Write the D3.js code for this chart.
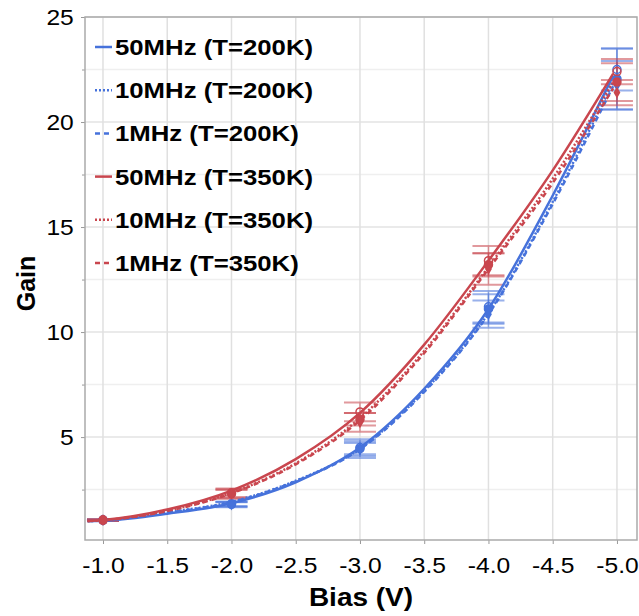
<!DOCTYPE html>
<html>
<head>
<meta charset="utf-8">
<script src="https://cdn.jsdelivr.net/npm/d3@7"></script>
<style>
  body { margin: 0; background: #fff; }
  text { font-family: "Liberation Sans", Arial, Helvetica, sans-serif; }
</style>
</head>
<body>
<script>
// bias points where the gain was measured
var biasPoints = [-1, -2, -3, -4, -5];

// measured gain and error per series
var blue50 = [1.05, 1.82, 4.5, 11.2, 22.5],   blue50Err = [0.03, 0.1, 0.4, 0.75, 1.0];
var blue10 = [1.05, 1.8, 4.45, 11.1, 22.05],  blue10Err = [0.03, 0.12, 0.27, 0.7, 1.45];
var blue1  = [1.05, 1.78, 4.4, 10.85, 21.75], blue1Err  = [0.03, 0.12, 0.4, 0.65, 1.15];
var red50  = [1.05, 2.35, 6.2, 13.4, 22.4],   red50Err  = [0.03, 0.2, 0.45, 0.7, 0.6];
var red10  = [1.05, 2.3, 5.85, 13.2, 21.9],   red10Err  = [0.03, 0.22, 0.3, 0.55, 0.9];
var red1   = [1.05, 2.28, 5.7, 13.0, 21.4],   red1Err   = [0.03, 0.2, 0.45, 0.75, 0.6];

// fitted curves
var curveBias = [-0.88, -1, -1.5, -2, -2.5, -3, -3.5, -4, -4.5, -4.97];
var blue50Fit = [1.0, 1.02, 1.35, 1.85, 2.85, 4.5, 7.3, 11.1, 16.5, 22.2];
var blue10Fit = [1.0, 1.03, 1.42, 1.92, 2.92, 4.45, 7.2, 10.9, 16.2, 21.9];
var blue1Fit  = [1.0, 1.03, 1.4, 1.9, 2.9, 4.42, 7.15, 10.85, 16.1, 21.7];
var red50Fit  = [1.0, 1.05, 1.55, 2.45, 3.95, 6.15, 9.4, 13.4, 17.7, 22.3];
var red10Fit  = [1.0, 1.04, 1.5, 2.35, 3.75, 5.9, 9.1, 13.1, 17.3, 21.9];
var red1Fit   = [1.0, 1.04, 1.48, 2.32, 3.7, 5.8, 9.0, 13.0, 17.1, 21.6];

var seriesNames = ["50MHz (T=200K)", "10MHz (T=200K)", "1MHz (T=200K)",
                   "50MHz (T=350K)", "10MHz (T=350K)", "1MHz (T=350K)"];

var xTicks = [-1.0, -1.5, -2.0, -2.5, -3.0, -3.5, -4.0, -4.5, -5.0];
var yTicks = [5, 10, 15, 20, 25];
var yMinor = [2.5, 7.5, 12.5, 17.5, 22.5];

var blue = "#4672db", red = "#c9464e";
var series = [
  {name: seriesNames[0], color: blue, dash: null,  marker: "open",    vals: blue50, err: blue50Err, fit: blue50Fit},
  {name: seriesNames[1], color: blue, dash: "2,2", marker: "circle",  vals: blue10, err: blue10Err, fit: blue10Fit},
  {name: seriesNames[2], color: blue, dash: "5,4", marker: "diamond", vals: blue1,  err: blue1Err,  fit: blue1Fit},
  {name: seriesNames[3], color: red,  dash: null,  marker: "open",    vals: red50,  err: red50Err,  fit: red50Fit},
  {name: seriesNames[4], color: red,  dash: "2,2", marker: "circle",  vals: red10,  err: red10Err,  fit: red10Fit},
  {name: seriesNames[5], color: red,  dash: "5,4", marker: "diamond", vals: red1,   err: red1Err,   fit: red1Fit}
];

var width = 639, height = 616;
var plotLeft = 85, plotRight = 637, plotTop = 17, plotBottom = 540;

var svg = d3.select("body").append("svg")
    .attr("width", width)
    .attr("height", height);

var x = d3.scaleLinear().domain([-0.86, -5.156]).range([plotLeft, plotRight]);
var y = d3.scaleLinear().domain([0.1, 25]).range([plotBottom, plotTop]);

// grid
svg.append("g").selectAll("line").data(yMinor).enter().append("line")
    .attr("x1", plotLeft).attr("x2", plotRight)
    .attr("y1", function(d) { return y(d); }).attr("y2", function(d) { return y(d); })
    .attr("stroke", "#efefef").attr("stroke-width", 1.5);
svg.append("g").selectAll("line").data(yTicks).enter().append("line")
    .attr("x1", plotLeft).attr("x2", plotRight)
    .attr("y1", function(d) { return y(d); }).attr("y2", function(d) { return y(d); })
    .attr("stroke", "#e3e3e3").attr("stroke-width", 1.5);
svg.append("g").selectAll("line").data(xTicks).enter().append("line")
    .attr("y1", plotTop).attr("y2", plotBottom)
    .attr("x1", function(d) { return x(d); }).attr("x2", function(d) { return x(d); })
    .attr("stroke", "#e0e0e0").attr("stroke-width", 1.5);

// axes
var xAxis = svg.append("g")
    .attr("transform", "translate(0," + plotBottom + ")")
    .call(d3.axisBottom(x).tickValues(xTicks).tickSize(4).tickPadding(13)
        .tickFormat(function(d) { return d.toFixed(1); }));
var yAxis = svg.append("g")
    .attr("transform", "translate(" + plotLeft + ",0)")
    .call(d3.axisLeft(y).tickValues(yTicks).tickSize(4).tickPadding(6));
var yAxisMinor = svg.append("g")
    .attr("transform", "translate(" + plotLeft + ",0)")
    .call(d3.axisLeft(y).tickValues(yMinor).tickSize(3).tickFormat(""));

[xAxis, yAxis, yAxisMinor].forEach(function(a) {
  a.select(".domain").remove();
  a.selectAll("line").attr("stroke", "#999");
  a.attr("font-size", 22).attr("font-family", "'Liberation Sans', Arial, sans-serif");
  a.selectAll("text").attr("fill", "#000");
});
xAxis.selectAll("text").attr("transform", "scale(1.12,1)");
yAxis.selectAll("text").attr("transform", "scale(1.12,1)");

// frame
svg.append("rect")
    .attr("x", plotLeft).attr("y", plotTop)
    .attr("width", plotRight - plotLeft).attr("height", plotBottom - plotTop)
    .attr("fill", "none").attr("stroke", "#aaa").attr("stroke-width", 1.5);

var plot = svg.append("g");

// error bars
series.forEach(function(s) {
  var g = plot.append("g").attr("stroke", s.color).attr("opacity", 0.55);
  biasPoints.forEach(function(b, i) {
    var cx = x(b), hi = y(s.vals[i] + s.err[i]), lo = y(s.vals[i] - s.err[i]);
    g.append("line").attr("x1", cx).attr("x2", cx).attr("y1", hi).attr("y2", lo)
        .attr("stroke-width", 1.5);
    [hi, lo].forEach(function(cy) {
      g.append("line").attr("x1", cx - 16).attr("x2", cx + 16)
          .attr("y1", cy).attr("y2", cy).attr("stroke-width", 2);
    });
  });
});

// fitted curves
var line = d3.line()
    .x(function(d) { return x(d[0]); })
    .y(function(d) { return y(d[1]); })
    .curve(d3.curveMonotoneX);

series.forEach(function(s) {
  plot.append("path")
      .datum(curveBias.map(function(b, i) { return [b, s.fit[i]]; }))
      .attr("d", line)
      .attr("fill", "none")
      .attr("stroke", s.color)
      .attr("stroke-width", 2.5)
      .attr("stroke-dasharray", s.dash);
});

// markers
series.forEach(function(s) {
  biasPoints.forEach(function(b, i) {
    var cx = x(b), cy = y(s.vals[i]);
    if (s.marker === "diamond") {
      plot.append("path")
          .attr("d", d3.symbol().type(d3.symbolDiamond).size(40)())
          .attr("transform", "translate(" + cx + "," + cy + ")")
          .attr("fill", s.color);
    } else {
      plot.append("circle")
          .attr("cx", cx).attr("cy", cy).attr("r", 4)
          .attr("fill", s.marker === "open" ? "none" : s.color)
          .attr("stroke", s.color).attr("stroke-width", 1.5);
    }
  });
});

// legend
var legend = svg.append("g");
series.forEach(function(s, i) {
  var ly = 47 + i * 43.2;
  legend.append("line")
      .attr("x1", 95).attr("x2", 112).attr("y1", ly).attr("y2", ly)
      .attr("stroke", s.color).attr("stroke-width", 2.5)
      .attr("stroke-dasharray", s.dash);
  legend.append("text")
      .attr("transform", "translate(115," + ly + ") scale(1.17,1)")
      .attr("dy", "0.36em")
      .attr("font-size", 22)
      .attr("font-weight", "bold")
      .attr("fill", "#000")
      .text(s.name);
});

// axis titles
svg.append("text")
    .attr("transform", "translate(" + ((plotLeft + plotRight) / 2) + ",606) scale(1.12,1)")
    .attr("text-anchor", "middle")
    .attr("font-size", 25)
    .attr("font-weight", "bold")
    .attr("fill", "#000")
    .text("Bias (V)");

svg.append("text")
    .attr("transform", "translate(35," + ((plotTop + plotBottom) / 2 + 5) + ") rotate(-90)")
    .attr("text-anchor", "middle")
    .attr("font-size", 25)
    .attr("font-weight", "bold")
    .attr("fill", "#000")
    .text("Gain");
</script>
</body>
</html>
